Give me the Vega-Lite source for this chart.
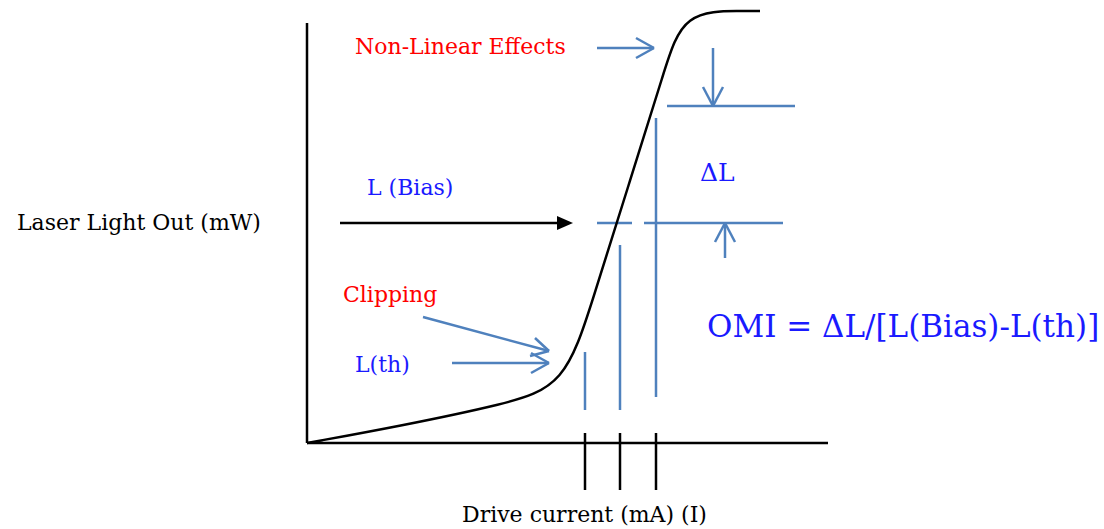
{
  "$schema": "https://vega.github.io/schema/vega-lite/v6.json",
  "width": 1104,
  "height": 529,
  "padding": 0,
  "autosize": {"type": "fit", "contains": "padding"},
  "background": "white",
  "config": {"view": {"stroke": null}, "text": {"font": "DejaVu Serif"}},
  "datasets": {
    "segments": [
      {"x": 307, "y": 506, "x2": 307, "y2": 86, "kind": "black"},
      {"x": 307, "y": 86, "x2": 828, "y2": 86, "kind": "black"},
      {"x": 585, "y": 96, "x2": 585, "y2": 39, "kind": "black"},
      {"x": 620, "y": 96, "x2": 620, "y2": 39, "kind": "black"},
      {"x": 656, "y": 96, "x2": 656, "y2": 39, "kind": "black"},
      {"x": 340, "y": 306, "x2": 560, "y2": 306, "kind": "black"},
      {"x": 667, "y": 423, "x2": 795, "y2": 423, "kind": "blue"},
      {"x": 597, "y": 306, "x2": 632, "y2": 306, "kind": "blue"},
      {"x": 644, "y": 306, "x2": 783, "y2": 306, "kind": "blue"},
      {"x": 585, "y": 177, "x2": 585, "y2": 119, "kind": "blue"},
      {"x": 620, "y": 284, "x2": 620, "y2": 119, "kind": "blue"},
      {"x": 656, "y": 411, "x2": 656, "y2": 132, "kind": "blue"},
      {"x": 713, "y": 481, "x2": 713, "y2": 423, "kind": "blue"},
      {"x": 703, "y": 442, "x2": 713, "y2": 423, "kind": "blue"},
      {"x": 723, "y": 442, "x2": 713, "y2": 423, "kind": "blue"},
      {"x": 725, "y": 306, "x2": 725, "y2": 271, "kind": "blue"},
      {"x": 715, "y": 287, "x2": 725, "y2": 306, "kind": "blue"},
      {"x": 735, "y": 287, "x2": 725, "y2": 306, "kind": "blue"},
      {"x": 597, "y": 481, "x2": 654, "y2": 481, "kind": "blue"},
      {"x": 636, "y": 491, "x2": 654, "y2": 481, "kind": "blue"},
      {"x": 636, "y": 471, "x2": 654, "y2": 481, "kind": "blue"},
      {"x": 423, "y": 212, "x2": 549, "y2": 178, "kind": "blue"},
      {"x": 535, "y": 191, "x2": 549, "y2": 178, "kind": "blue"},
      {"x": 530, "y": 173, "x2": 549, "y2": 178, "kind": "blue"},
      {"x": 452, "y": 166, "x2": 549, "y2": 166, "kind": "blue"},
      {"x": 531, "y": 176, "x2": 549, "y2": 166, "kind": "blue"},
      {"x": 531, "y": 156, "x2": 549, "y2": 166, "kind": "blue"}
    ],
    "curve": [
      {"current": 307, "light": 86},
      {"current": 400, "light": 103},
      {"current": 505, "light": 125},
      {"current": 565, "light": 143},
      {"current": 592, "light": 227},
      {"current": 628, "light": 342},
      {"current": 665, "light": 460},
      {"current": 683, "light": 518},
      {"current": 744, "light": 518},
      {"current": 760, "light": 518}
    ],
    "heads": [
      {"x": 565, "y": 306}
    ],
    "labels": [
      {"x": 17, "y": 306, "text": "Laser Light Out (mW)", "role": "axis"},
      {"x": 462, "y": 14, "text": "Drive current (mA) (I)", "role": "axis"},
      {"x": 355, "y": 482, "text": "Non-Linear Effects", "role": "red"},
      {"x": 343, "y": 234, "text": "Clipping", "role": "red"},
      {"x": 367, "y": 341, "text": "L (Bias)", "role": "blue"},
      {"x": 355, "y": 164, "text": "L(th)", "role": "blue"},
      {"x": 700, "y": 356, "text": "ΔL", "role": "delta"},
      {"x": 707, "y": 201, "text": "OMI = ΔL/[L(Bias)-L(th)]", "role": "formula"}
    ]
  },
  "layer": [
    {
      "data": {"name": "segments"},
      "transform": [{"filter": "datum.kind === 'black'"}],
      "mark": {"type": "rule", "color": "black", "strokeWidth": 2.5},
      "encoding": {
        "x": {"field": "x", "type": "quantitative", "scale": {"domain": [0, 1104], "nice": false, "zero": false}, "axis": null},
        "y": {"field": "y", "type": "quantitative", "scale": {"domain": [0, 529], "nice": false, "zero": false}, "axis": null},
        "x2": {"field": "x2"},
        "y2": {"field": "y2"}
      }
    },
    {
      "data": {"name": "segments"},
      "transform": [{"filter": "datum.kind === 'blue'"}],
      "mark": {"type": "rule", "color": "#4f81bd", "strokeWidth": 2.5},
      "encoding": {
        "x": {"field": "x", "type": "quantitative"},
        "y": {"field": "y", "type": "quantitative"},
        "x2": {"field": "x2"},
        "y2": {"field": "y2"}
      }
    },
    {
      "data": {"name": "curve"},
      "mark": {"type": "line", "color": "black", "strokeWidth": 2.5, "interpolate": "basis"},
      "encoding": {
        "x": {"field": "current", "type": "quantitative"},
        "y": {"field": "light", "type": "quantitative"}
      }
    },
    {
      "data": {"name": "heads"},
      "mark": {"type": "point", "shape": "M -1 -0.875 L 1 0 L -1 0.875 Z", "filled": true, "color": "black", "opacity": 1, "size": 256},
      "encoding": {
        "x": {"field": "x", "type": "quantitative"},
        "y": {"field": "y", "type": "quantitative"}
      }
    },
    {
      "data": {"name": "labels"},
      "transform": [{"filter": "datum.role === 'axis'"}],
      "mark": {"type": "text", "align": "left", "baseline": "middle", "fontSize": 22, "color": "black"},
      "encoding": {
        "x": {"field": "x", "type": "quantitative"},
        "y": {"field": "y", "type": "quantitative"},
        "text": {"field": "text"}
      }
    },
    {
      "data": {"name": "labels"},
      "transform": [{"filter": "datum.role === 'red'"}],
      "mark": {"type": "text", "align": "left", "baseline": "middle", "fontSize": 22, "color": "#ff0000"},
      "encoding": {
        "x": {"field": "x", "type": "quantitative"},
        "y": {"field": "y", "type": "quantitative"},
        "text": {"field": "text"}
      }
    },
    {
      "data": {"name": "labels"},
      "transform": [{"filter": "datum.role === 'blue'"}],
      "mark": {"type": "text", "align": "left", "baseline": "middle", "fontSize": 22, "color": "#1a1aff"},
      "encoding": {
        "x": {"field": "x", "type": "quantitative"},
        "y": {"field": "y", "type": "quantitative"},
        "text": {"field": "text"}
      }
    },
    {
      "data": {"name": "labels"},
      "transform": [{"filter": "datum.role === 'delta'"}],
      "mark": {"type": "text", "align": "left", "baseline": "middle", "fontSize": 25, "color": "#1a1aff"},
      "encoding": {
        "x": {"field": "x", "type": "quantitative"},
        "y": {"field": "y", "type": "quantitative"},
        "text": {"field": "text"}
      }
    },
    {
      "data": {"name": "labels"},
      "transform": [{"filter": "datum.role === 'formula'"}],
      "mark": {"type": "text", "align": "left", "baseline": "middle", "fontSize": 31, "color": "#1a1aff"},
      "encoding": {
        "x": {"field": "x", "type": "quantitative"},
        "y": {"field": "y", "type": "quantitative"},
        "text": {"field": "text"}
      }
    }
  ]
}
